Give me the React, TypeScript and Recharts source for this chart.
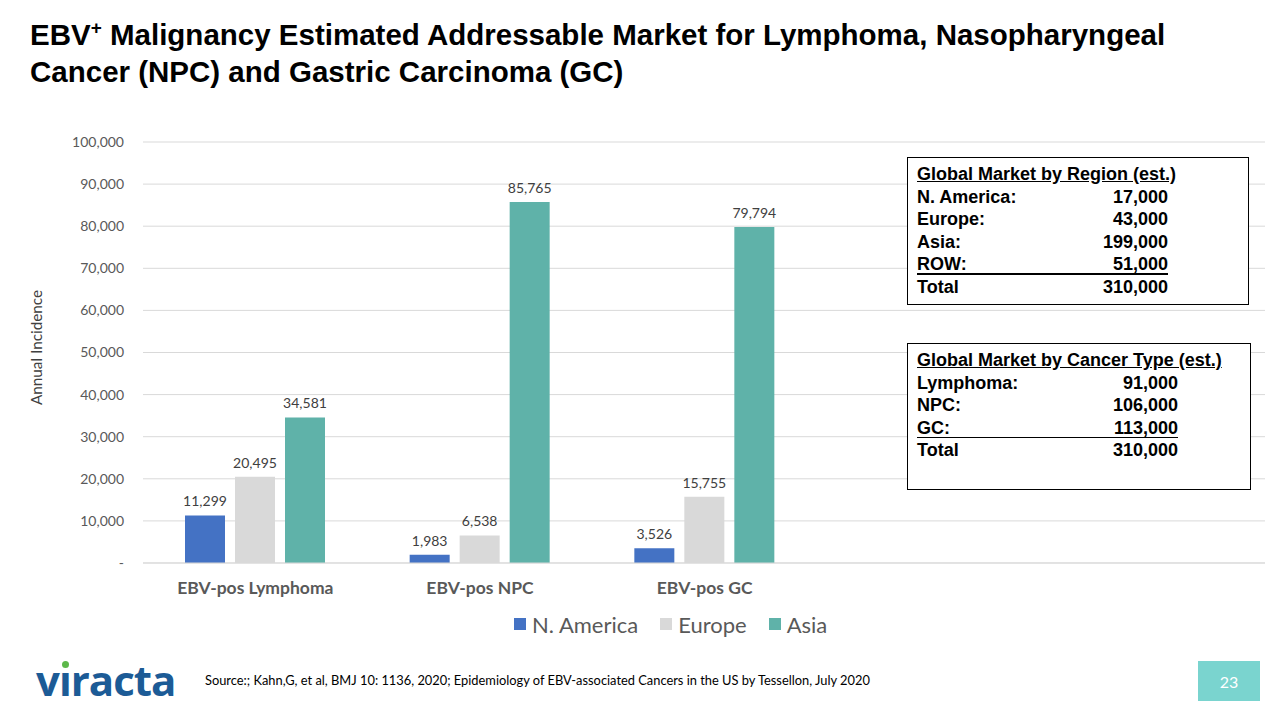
import React from 'react';
import { BarChart, Bar, XAxis, YAxis, CartesianGrid, Legend, LabelList } from 'recharts';

const categories = ['EBV-pos Lymphoma', 'EBV-pos NPC', 'EBV-pos GC'];
const northAmerica = [11299, 1983, 3526];
const europe = [20495, 6538, 15755];
const asia = [34581, 85765, 79794];
const yTicks = [0, 10000, 20000, 30000, 40000, 50000, 60000, 70000, 80000, 90000, 100000];

const regionRows = [
  ['N. America:', '17,000'],
  ['Europe:', '43,000'],
  ['Asia:', '199,000'],
  ['ROW:', '51,000'],
  ['Total', '310,000'],
];
const cancerRows = [
  ['Lymphoma:', '91,000'],
  ['NPC:', '106,000'],
  ['GC:', '113,000'],
  ['Total', '310,000'],
];

const series = [
  { key: 'na', name: 'N. America', color: '#4472C4' },
  { key: 'eu', name: 'Europe', color: '#D9D9D9' },
  { key: 'asia', name: 'Asia', color: '#5FB2A9' },
];

const data = categories.map((name, i) => ({
  name,
  na: northAmerica[i],
  eu: europe[i],
  asia: asia[i],
}));

const fmt = (v: number) => (v === 0 ? '-' : v.toLocaleString('en-US'));
const calibri = 'Lato, "Open Sans", sans-serif';
const helv = '"Liberation Sans", Arial, sans-serif';

const LegendContent = () => (
  <div style={{ display: 'flex', alignItems: 'center', fontFamily: calibri, fontSize: 22, color: '#595959', height: 30 }}>
    {series.map((s) => (
      <div key={s.key} style={{ display: 'flex', alignItems: 'center', marginRight: 22 }}>
        <span style={{ width: 12, height: 12, background: s.color, display: 'inline-block', marginRight: 6 }} />
        <span>{s.name}</span>
      </div>
    ))}
  </div>
);

const InfoBox = ({ left, top, width, height, title, rows, valueRight, lineAfter }: any) => (
  <div
    style={{
      position: 'absolute', left, top, width, height, border: '1.5px solid #000', boxSizing: 'border-box',
      background: '#fff', fontFamily: helv, fontWeight: 'bold', fontSize: 18, color: '#000',
    }}
  >
    <div style={{ position: 'absolute', left: 9, top: 6, textDecoration: 'underline', whiteSpace: 'nowrap' }}>{title}</div>
    {rows.map((r: string[], i: number) => (
      <div key={i} style={{ position: 'absolute', left: 9, top: 29 + i * 22.4, width: valueRight - 9, height: 22 }}>
        <span style={{ position: 'absolute', left: 0 }}>{r[0]}</span>
        <span style={{ position: 'absolute', right: 0 }}>{r[1]}</span>
        {i === lineAfter && (
          <div style={{ position: 'absolute', left: 0, right: 0, top: 19, height: 1.5, background: '#000' }} />
        )}
      </div>
    ))}
  </div>
);

export default function App() {
  return (
    <div style={{ position: 'absolute', left: 0, top: 0, width: 1280, height: 720, background: '#fff', overflow: 'hidden' }}>
      <div style={{ position: 'absolute', left: 30, top: 16, fontFamily: helv, fontWeight: 'bold', fontSize: 29.5, lineHeight: '37px', color: '#000', whiteSpace: 'nowrap' }}>
        <div>EBV<sup style={{ fontSize: 19, lineHeight: 0 }}>+</sup> Malignancy Estimated Addressable Market for Lymphoma, Nasopharyngeal</div>
        <div>Cancer (NPC) and Gastric Carcinoma (GC)</div>
      </div>

      <div style={{ position: 'absolute', left: 0, top: 0 }}>
        <BarChart
          width={1280}
          height={720}
          data={data}
          margin={{ top: 142, right: 15, bottom: 97, left: 43 }}
          barSize={40}
          barGap={10}
        >
          <CartesianGrid vertical={false} stroke="#D9D9D9" />
          <XAxis
            dataKey="name"
            padding={{ left: 0, right: 448 }}
            axisLine={{ stroke: '#D9D9D9' }}
            tickLine={false}
            tickMargin={13}
            tick={{ fontFamily: calibri, fontSize: 17.5, fontWeight: 'bold', fill: '#595959' }}
          />
          <YAxis
            width={100}
            domain={[0, 100000]}
            ticks={yTicks}
            tickFormatter={fmt}
            axisLine={false}
            tickLine={false}
            tickMargin={13}
            tick={{ fontFamily: calibri, fontSize: 14, fill: '#595959' }}
            label={{ value: 'Annual Incidence', angle: -90, position: 'center', dx: -56, dy: -5, style: { fontFamily: calibri, fontSize: 15.3, fill: '#404040' } }}
          />
          <Legend
            verticalAlign="bottom"
            height={30}
            content={<LegendContent />}
            wrapperStyle={{ position: 'absolute', left: 514, top: 609, width: 'auto', bottom: 'auto' }}
          />
          {series.map((s) => (
            <Bar key={s.key} dataKey={s.key} name={s.name} fill={s.color} isAnimationActive={false}>
              <LabelList dataKey={s.key} position="top" offset={9} formatter={(v: any) => fmt(Number(v))} style={{ fontFamily: calibri, fontSize: 14, fill: '#404040' }} />
            </Bar>
          ))}
        </BarChart>
      </div>

      <InfoBox left={907} top={157} width={342} height={148} title="Global Market by Region (est.)" rows={regionRows} valueRight={260} lineAfter={3} />
      <InfoBox left={907} top={343} width={344} height={147} title="Global Market by Cancer Type (est.)" rows={cancerRows} valueRight={270} lineAfter={2} />

      <div style={{ position: 'absolute', left: 36, top: 655, fontFamily: '"Open Sans", sans-serif', fontWeight: 'bold', fontSize: 42, color: '#1C5B96', letterSpacing: -1, lineHeight: '50px' }}>
        v<span style={{ position: 'relative' }}>ı<span style={{ position: 'absolute', left: 3, top: 10, width: 7, height: 7, borderRadius: 4, background: '#5DB84A' }} /></span>racta
      </div>
      <div style={{ position: 'absolute', left: 205, top: 672, fontFamily: calibri, fontSize: 12.85, color: '#000', whiteSpace: 'nowrap' }}>
        Source:; Kahn,G, et al, BMJ 10: 1136, 2020; Epidemiology of EBV-associated Cancers in the US by Tessellon, July 2020
      </div>
      <div style={{ position: 'absolute', left: 1198, top: 661, width: 62, height: 40, background: '#7AD4CF', color: '#fff', fontFamily: calibri, fontSize: 16, display: 'flex', alignItems: 'center', justifyContent: 'center' }}>
        23
      </div>
    </div>
  );
}
